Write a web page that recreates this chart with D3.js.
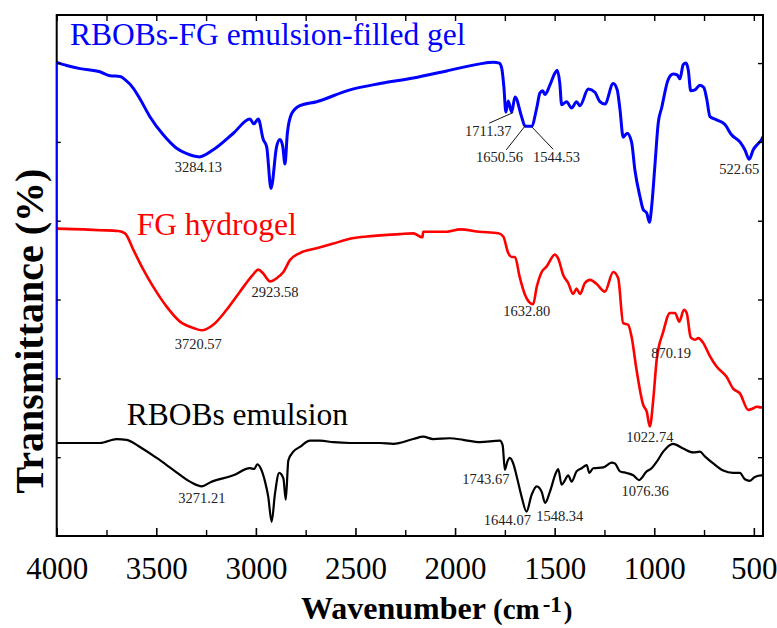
<!DOCTYPE html>
<html>
<head>
<meta charset="utf-8">
<script src="https://cdn.jsdelivr.net/npm/d3@7"></script>
<style>
  html, body { margin: 0; padding: 0; background: #fff; }
  svg { display: block; }
</style>
</head>
<body>
<svg id="chart" width="777" height="628"></svg>
<script>
// FTIR spectra (stacked, arbitrary transmittance offset units)
const gelWn = [4000,3950,3883,3783,3732,3682,3657,3615,3583,3532,3465,3398,3347,3284,3214,3113,3030,3010,2988,2963,2946,2924,2896,2879,2865,2854,2842,2820,2779,2695,2528,2377,2210,2042,1875,1808,1778,1766,1755,1745,1733,1716,1699,1666,1649,1616,1590,1574,1560,1549,1524,1499,1487,1474,1465,1440,1415,1390,1373,1331,1298,1273,1248,1206,1186,1172,1156,1136,1114,1097,1072,1055,1038,1024,1013,997,980,963,930,905,885,871,855,841,829,817,796,771,751,737,720,687,645,612,570,545,523,503,478,461,455];
const gelT  = [6.01,5.97,5.93,5.89,5.84,5.83,5.79,5.68,5.55,5.32,5.09,4.92,4.85,4.81,4.90,5.11,5.29,5.23,5.29,5.03,4.94,4.41,4.94,5.03,4.94,4.72,5.11,5.36,5.46,5.51,5.66,5.74,5.81,5.90,5.99,6.01,6.00,5.94,5.70,5.38,5.52,5.38,5.57,5.32,5.20,5.20,5.43,5.62,5.65,5.60,5.72,5.87,5.91,5.74,5.47,5.51,5.43,5.51,5.46,5.67,5.63,5.51,5.48,5.74,5.66,5.41,5.06,5.11,5.00,4.64,4.31,4.14,4.10,3.98,4.18,4.69,5.24,5.43,5.79,5.86,5.85,5.80,5.98,6.00,5.91,5.65,5.66,5.72,5.69,5.55,5.32,5.28,5.22,5.09,5.00,4.90,4.78,4.90,4.98,5.03,5.06];

const hydroWn = [4000,3866,3783,3691,3657,3615,3565,3515,3448,3381,3314,3272,3214,3147,3080,3013,2988,2963,2929,2896,2862,2829,2779,2695,2611,2528,2444,2277,2210,2164,2160,2042,1975,1877,1783,1758,1733,1716,1699,1676,1649,1629,1608,1590,1565,1540,1499,1482,1457,1432,1407,1390,1373,1348,1323,1290,1248,1206,1181,1156,1131,1114,1089,1055,1038,1022,1005,988,955,921,896,874,851,837,817,796,779,754,720,687,637,604,570,528,503,486,461,455];
const hydroT  = [3.90,3.89,3.88,3.87,3.84,3.63,3.38,3.16,2.91,2.72,2.64,2.61,2.68,2.87,3.10,3.32,3.38,3.33,3.23,3.27,3.35,3.50,3.59,3.65,3.71,3.77,3.80,3.83,3.84,3.79,3.86,3.86,3.89,3.86,3.84,3.80,3.59,3.54,3.54,3.29,3.06,2.97,2.94,3.16,3.35,3.42,3.57,3.52,3.31,3.21,3.07,3.14,3.07,3.21,3.25,3.20,3.10,3.35,3.27,2.70,2.68,2.53,2.11,1.66,1.58,1.39,1.73,2.23,2.59,2.83,2.83,2.72,2.87,2.83,2.52,2.49,2.51,2.45,2.28,2.15,2.02,1.87,1.81,1.60,1.62,1.64,1.63,1.64];

const emulWn = [4000,3816,3783,3699,3649,3582,3498,3415,3331,3271,3230,3113,3030,3008,2993,2976,2954,2938,2921,2904,2883,2862,2850,2837,2812,2779,2728,2678,2611,2528,2377,2310,2210,2160,2110,2026,1959,1875,1775,1761,1750,1738,1725,1708,1688,1666,1641,1616,1590,1565,1548,1524,1494,1482,1465,1448,1432,1415,1390,1364,1339,1326,1306,1256,1214,1197,1172,1139,1105,1076,1038,1013,988,955,905,855,804,771,746,704,654,604,570,545,520,495,461,455];
const emulT  = [1.18,1.18,1.18,1.23,1.22,1.13,0.99,0.84,0.69,0.63,0.68,0.77,0.86,0.85,0.91,0.86,0.69,0.50,0.18,0.54,0.80,0.73,0.46,0.96,1.07,1.13,1.21,1.21,1.19,1.18,1.18,1.17,1.23,1.26,1.23,1.24,1.22,1.19,1.21,1.15,0.84,0.94,0.99,0.92,0.73,0.50,0.31,0.52,0.63,0.56,0.42,0.56,0.80,0.85,0.65,0.71,0.77,0.69,0.82,0.86,0.90,0.80,0.86,0.87,0.93,0.92,0.82,0.80,0.77,0.71,0.82,0.86,0.94,1.07,1.17,1.11,1.06,1.07,1.01,0.92,0.83,0.80,0.80,0.72,0.70,0.75,0.77,0.77];

const seriesNames  = ["RBOBs-FG emulsion-filled gel", "FG hydrogel", "RBOBs emulsion"];
const seriesColors = ["#0000ff", "#ff0000", "#000000"];

// Peak labels: text, series index, wavenumber on the curve the label marks
const peakText   = ["3284.13","1711.37","1650.56","1544.53","522.65","3720.57","2923.58","1632.80","1022.74","870.19","3271.21","1743.67","1644.07","1548.34","1076.36"];
const peakSeries = [0,0,0,0,0,1,1,1,1,1,2,2,2,2,2];
const peakWn     = [3284,1716,1649,1616,523,3272,2929,1629,1022,874,3271,1750,1641,1548,1076];

const xTickValues = [4000,3500,3000,2500,2000,1500,1000,500];
const xMinorValues = [3750,3250,2750,2250,1750,1250,750];
const yTickValues = [1,2,3,4,5,6];

// ---- layout ----
const W = 777, H = 628;
const FONT = "'Liberation Serif', 'Times New Roman', serif";
const plot = { left: 56.7, right: 763, top: 15, bottom: 536 };

const svg = d3.select("#chart").attr("font-family", FONT);
svg.append("rect").attr("width", W).attr("height", H).attr("fill", "#fff");

const x = d3.scaleLinear().domain([4000, 454]).range([plot.left, plot.right]);
const y = d3.scaleLinear().domain([0, 6.61]).range([plot.bottom, plot.top]);

const series = [
  { wn: gelWn, t: gelT, width: 3 },
  { wn: hydroWn, t: hydroT, width: 2.6 },
  { wn: emulWn, t: emulT, width: 2.2 }
].map((s, i) => ({
  ...s,
  name: seriesNames[i],
  color: seriesColors[i],
  pts: s.wn.map((w, j) => [w, s.t[j]])
}));

const line = d3.line()
  .x(d => x(d[0]))
  .y(d => y(d[1]))
  .curve(d3.curveMonotoneX);

svg.append("clipPath").attr("id", "clip")
  .append("rect")
  .attr("x", plot.left).attr("y", plot.top)
  .attr("width", plot.right - plot.left).attr("height", plot.bottom - plot.top);

const g = svg.append("g").attr("clip-path", "url(#clip)");

series.forEach(s => {
  g.append("path")
    .datum(s.pts)
    .attr("fill", "none")
    .attr("stroke", s.color)
    .attr("stroke-width", s.width)
    .attr("stroke-linejoin", "round")
    .attr("stroke-linecap", "round")
    .attr("d", line);
});

// ---- axes frame ----
svg.append("rect")
  .attr("x", plot.left).attr("y", plot.top)
  .attr("width", plot.right - plot.left).attr("height", plot.bottom - plot.top)
  .attr("fill", "none").attr("stroke", "#000").attr("stroke-width", 2);

// vertical drop of the gel spectrum along the left edge
svg.append("line")
  .attr("x1", x(4000)).attr("x2", x(4000))
  .attr("y1", y(gelT[0])).attr("y2", y(2))
  .attr("stroke", "#0000ff").attr("stroke-width", 1.6);

// bottom axis with labels, ticks inward
const bottomAxis = d3.axisBottom(x).tickValues(xTickValues).tickFormat(d3.format("d"))
  .tickSizeInner(-8).tickSizeOuter(0).tickPadding(21);
const bAx = svg.append("g").attr("transform", `translate(0,${plot.bottom})`).call(bottomAxis);
bAx.attr("font-family", FONT);
bAx.select(".domain").remove();
bAx.selectAll(".tick line").attr("stroke", "#000").attr("stroke-width", 1.6);
bAx.selectAll(".tick text")
  .attr("font-size", 31)
  .attr("fill", "#000")
  .attr("dy", "0.71em");

const bMinor = d3.axisBottom(x).tickValues(xMinorValues).tickSizeInner(-6).tickSizeOuter(0).tickFormat("");
const bMi = svg.append("g").attr("transform", `translate(0,${plot.bottom})`).call(bMinor);
bMi.select(".domain").remove();
bMi.selectAll(".tick line").attr("stroke", "#000").attr("stroke-width", 1.4);

// top axis ticks
const topAxis = d3.axisTop(x).tickValues(xTickValues.concat(xMinorValues)).tickSizeInner(-6).tickSizeOuter(0).tickFormat("");
const tAx = svg.append("g").attr("transform", `translate(0,${plot.top})`).call(topAxis);
tAx.select(".domain").remove();
tAx.selectAll(".tick line").attr("stroke", "#000").attr("stroke-width", 1.4);

// left and right ticks
const leftAxis = d3.axisLeft(y).tickValues(yTickValues).tickSizeInner(-4).tickSizeOuter(0).tickFormat("");
const lAx = svg.append("g").attr("transform", `translate(${plot.left},0)`).call(leftAxis);
lAx.select(".domain").remove();
lAx.selectAll(".tick line").attr("stroke", "#000").attr("stroke-width", 1.4);

const rightAxis = d3.axisRight(y).tickValues(yTickValues).tickSizeInner(-5).tickSizeOuter(0).tickFormat("");
const rAx = svg.append("g").attr("transform", `translate(${plot.right},0)`).call(rightAxis);
rAx.select(".domain").remove();
rAx.selectAll(".tick line").attr("stroke", "#000").attr("stroke-width", 1.4);

// ---- axis titles ----
const xt = svg.append("text")
  .attr("y", 619)
  .attr("font-weight", "bold")
  .attr("fill", "#000");
xt.append("tspan").attr("x", 301).attr("font-size", 32).text("Wavenumber");
xt.append("tspan").attr("x", 493).attr("font-size", 29).text("(cm");
xt.append("tspan").attr("font-size", 23).attr("dx", 3).attr("dy", -7).text("-1");
xt.append("tspan").attr("font-size", 26).attr("dx", 2).attr("dy", 7).text(")");

svg.append("text")
  .attr("transform", "translate(43,331) rotate(-90)")
  .attr("text-anchor", "middle")
  .attr("font-size", 40)
  .attr("font-weight", "bold")
  .attr("fill", "#000")
  .text("Transmittance (%)");

// ---- series names ----
const nameLayout = [ { x: 70, y: 45 }, { x: 136.7, y: 235 }, { x: 126.7, y: 425 } ];
series.forEach((s, i) => {
  svg.append("text")
    .attr("x", nameLayout[i].x).attr("y", nameLayout[i].y)
    .attr("font-size", 31.5)
    .attr("fill", s.color)
    .text(s.name);
});

// ---- peak labels ----
// label baseline offset and optional leader segment, relative to the marked point
const peakLayout = [
  { dx: -1,   dy: 15 },
  { dx: -23.4, dy: 23.9, lead: [-22.4, 11.2, 1.6, 0.6] },
  { dx: -25.5, dy: 35.5, lead: [-18.8, 23.8, 0, 0] },
  { dx: 25,   dy: 35.5, lead: [21.6, 23.1, 0, 0.5] },
  { dx: -10,  dy: 15 },
  { dx: -3.4, dy: 18.7 },
  { dx: 5,    dy: 15.2 },
  { dx: -2.2, dy: 14 },
  { dx: 0,    dy: 15.2 },
  { dx: -8.2, dy: 36.6 },
  { dx: 0,    dy: 17 },
  { dx: -19,  dy: 14.5 },
  { dx: -19.2, dy: 13.4 },
  { dx: 14.6, dy: 18 },
  { dx: 6,    dy: 16 }
];

function valueAt(s, wn) {
  let best = 0, bd = Infinity;
  s.wn.forEach((w, j) => { const d = Math.abs(w - wn); if (d < bd) { bd = d; best = j; } });
  return s.t[best];
}

peakText.forEach((txt, i) => {
  const s = series[peakSeries[i]];
  const px = x(peakWn[i]);
  const py = y(valueAt(s, peakWn[i]));
  const L = peakLayout[i];
  if (L.lead) {
    svg.append("line")
      .attr("x1", px + L.lead[0]).attr("y1", py + L.lead[1])
      .attr("x2", px + L.lead[2]).attr("y2", py + L.lead[3])
      .attr("stroke", "#111").attr("stroke-width", 1);
  }
  svg.append("text")
    .attr("x", px + L.dx).attr("y", py + L.dy)
    .attr("text-anchor", "middle")
    .attr("font-size", 14.5)
    .attr("fill", "#222")
    .text(txt);
});
</script>
</body>
</html>
